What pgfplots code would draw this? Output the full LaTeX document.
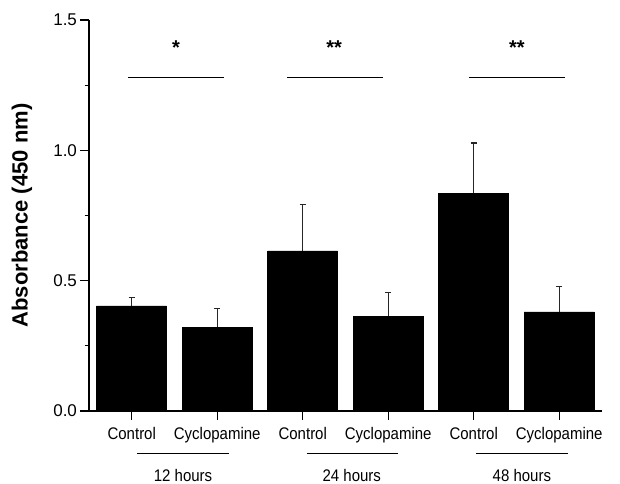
\documentclass[border=0pt]{standalone}
\usepackage{fontspec}
\setmainfont{Liberation Sans}
\usepackage{pgfplots}
\pgfplotsset{compat=1.18}

\begin{document}
\begin{tikzpicture}
\useasboundingbox (-44.5pt,-36pt) rectangle (265.5pt,205.5pt);
\begin{axis}[
  at={(0,0)}, anchor=south west,
  scale only axis,
  width=256.5pt, height=195.5pt,
  xmin=-0.5, xmax=5.5,
  ymin=0, ymax=1.5,
  axis x line*=bottom,
  axis y line*=left,
  axis line style={line width=0.6pt, -},
  clip=false,
  ybar, bar width=35pt,
  xtick={0,1,2,3,4,5},
  xticklabels={Control,Cyclopamine,Control,Cyclopamine,Control,Cyclopamine},
  ytick={0,0.5,1,1.5},
  minor ytick={0.25,0.75,1.25},
  xtick pos=bottom, ytick pos=left,
  tick align=outside,
  major tick length=4.3pt,
  minor tick length=2.2pt,
  every tick/.style={black, line width=0.6pt},
  yticklabel style={/pgf/number format/fixed, /pgf/number format/fixed zerofill,
    /pgf/number format/precision=1, font=\fontsize{8.5}{10}\selectfont, xshift=1.8pt},
  /pgf/number format/assume math mode=true,
  xticklabel style={font=\fontsize{7.5}{9}\selectfont, yscale=1.12},
  ylabel={Absorbance (450 nm)},
  ylabel style={font=\fontsize{11}{13}\selectfont\bfseries, at={(axis description cs:-0.1306,0.5)}, anchor=center},
]
\addplot[fill=black, draw=black,
  error bars/.cd, y dir=plus, y explicit,
  error bar style={line width=0.6pt, black!85},
  error mark options={rotate=90, mark size=1.6pt, line width=0.6pt}]
  table[x=x, y=y, y error=e] {
x y e
0 0.403 0.032
1 0.322 0.072
2 0.614 0.179
3 0.364 0.091
4 0.835 0.193
5 0.380 0.097
};
% significance brackets
\draw[line width=0.5pt] (axis cs:-0.04,1.281) -- (axis cs:1.077,1.281);
\draw[line width=0.5pt] (axis cs:1.817,1.281) -- (axis cs:2.937,1.281);
\draw[line width=0.5pt] (axis cs:3.947,1.281) -- (axis cs:5.067,1.281);
\node[font=\fontsize{10}{12}\selectfont\bfseries] at (axis cs:0.518,1.395) {*};
\node[font=\fontsize{10}{12}\selectfont\bfseries] at (axis cs:2.367,1.395) {**};
\node[font=\fontsize{10}{12}\selectfont\bfseries] at (axis cs:4.505,1.395) {**};
% time groups
\draw[line width=0.5pt] (axis cs:0.066,-0.164) -- (axis cs:1.139,-0.164);
\draw[line width=0.5pt] (axis cs:2.048,-0.164) -- (axis cs:3.113,-0.164);
\draw[line width=0.5pt] (axis cs:4.029,-0.164) -- (axis cs:5.105,-0.164);
\node[font=\fontsize{7.5}{9}\selectfont, yscale=1.12] at (axis cs:0.60,-0.249) {12 hours};
\node[font=\fontsize{7.5}{9}\selectfont, yscale=1.12] at (axis cs:2.574,-0.249) {24 hours};
\node[font=\fontsize{7.5}{9}\selectfont, yscale=1.12] at (axis cs:4.563,-0.249) {48 hours};
\end{axis}
\end{tikzpicture}
\end{document}
